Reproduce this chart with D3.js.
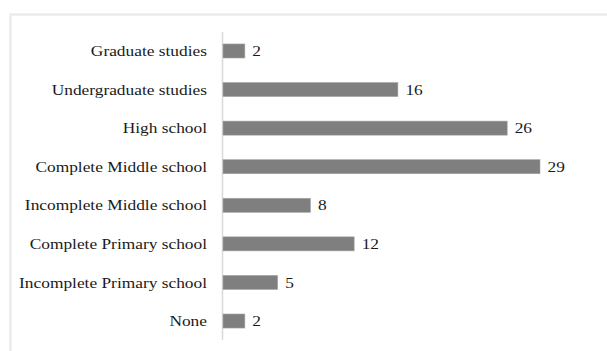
<!DOCTYPE html>
<html>
<head>
<meta charset="utf-8">
<script src="https://cdn.jsdelivr.net/npm/d3@7"></script>
<style>
  html, body { margin: 0; padding: 0; background: #fff; overflow: hidden; }
  svg { display: block; }
  text { font-family: "Liberation Serif", "DejaVu Serif", serif; fill: #1a1a1a; }
</style>
</head>
<body>
<svg id="chart" width="607" height="351"></svg>
<script>
const categories = [
  "Graduate studies",
  "Undergraduate studies",
  "High school",
  "Complete Middle school",
  "Incomplete Middle school",
  "Complete Primary school",
  "Incomplete Primary school",
  "None"
];
const values = [2, 16, 26, 29, 8, 12, 5, 2];

const W = 607, H = 351;
const svg = d3.select("#chart");

// outer frame (top and left visible, rest cropped)
svg.append("rect")
  .attr("x", 10.5).attr("y", 14.5)
  .attr("width", 640).attr("height", 400)
  .attr("fill", "none")
  .attr("stroke", "#ebebeb")
  .attr("stroke-width", 2.5);

const x0 = 222.5;
const x = d3.scaleLinear().domain([0, 29]).range([x0, x0 + 317]);
const y = d3.scaleBand().domain(categories).range([32, 340]).paddingInner(0.636).paddingOuter(0.31);

// axis line
svg.append("line")
  .attr("x1", x0).attr("x2", x0)
  .attr("y1", 32).attr("y2", 340)
  .attr("stroke", "#d9d9d9")
  .attr("stroke-width", 1.5);

const data = categories.map((c, i) => ({ c, v: values[i] }));

svg.selectAll("rect.bar").data(data).enter().append("rect")
  .attr("class", "bar")
  .attr("x", x(0) + 0.5)
  .attr("y", d => y(d.c))
  .attr("width", d => x(d.v) - x(0))
  .attr("height", y.bandwidth())
  .attr("fill", "#7f7f7f")
  .attr("stroke", "#a6a6a6")
  .attr("stroke-width", 0.6);

const fs = 14.5;
svg.selectAll("text.cat").data(data).enter().append("text")
  .attr("class", "cat")
  .attr("x", 207)
  .attr("y", d => y(d.c) + y.bandwidth() / 2)
  .attr("dy", "0.35em")
  .attr("text-anchor", "end")
  .style("font-size", fs + "px")
  .text(d => d.c);

svg.selectAll("text.val").data(data).enter().append("text")
  .attr("class", "val")
  .attr("x", d => x(d.v) + 8)
  .attr("y", d => y(d.c) + y.bandwidth() / 2)
  .attr("dy", "0.35em")
  .style("font-size", fs + "px")
  .text(d => d.v);

// stretch labels horizontally to the reference's wider serif face
const target = 188;
let maxW = 0;
svg.selectAll("text.cat").each(function () { maxW = Math.max(maxW, this.getComputedTextLength()); });
const k = target / maxW;
svg.selectAll("text.cat").each(function () {
  const t = d3.select(this);
  const yy = +t.attr("y");
  t.attr("transform", `translate(207,${yy}) scale(${k},1) translate(-207,${-yy})`);
});
svg.selectAll("text.val").each(function () {
  const t = d3.select(this);
  const xx = +t.attr("x"), yy = +t.attr("y");
  t.attr("transform", `translate(${xx},${yy}) scale(${k},1) translate(${-xx},${-yy})`);
});
</script>
</body>
</html>
